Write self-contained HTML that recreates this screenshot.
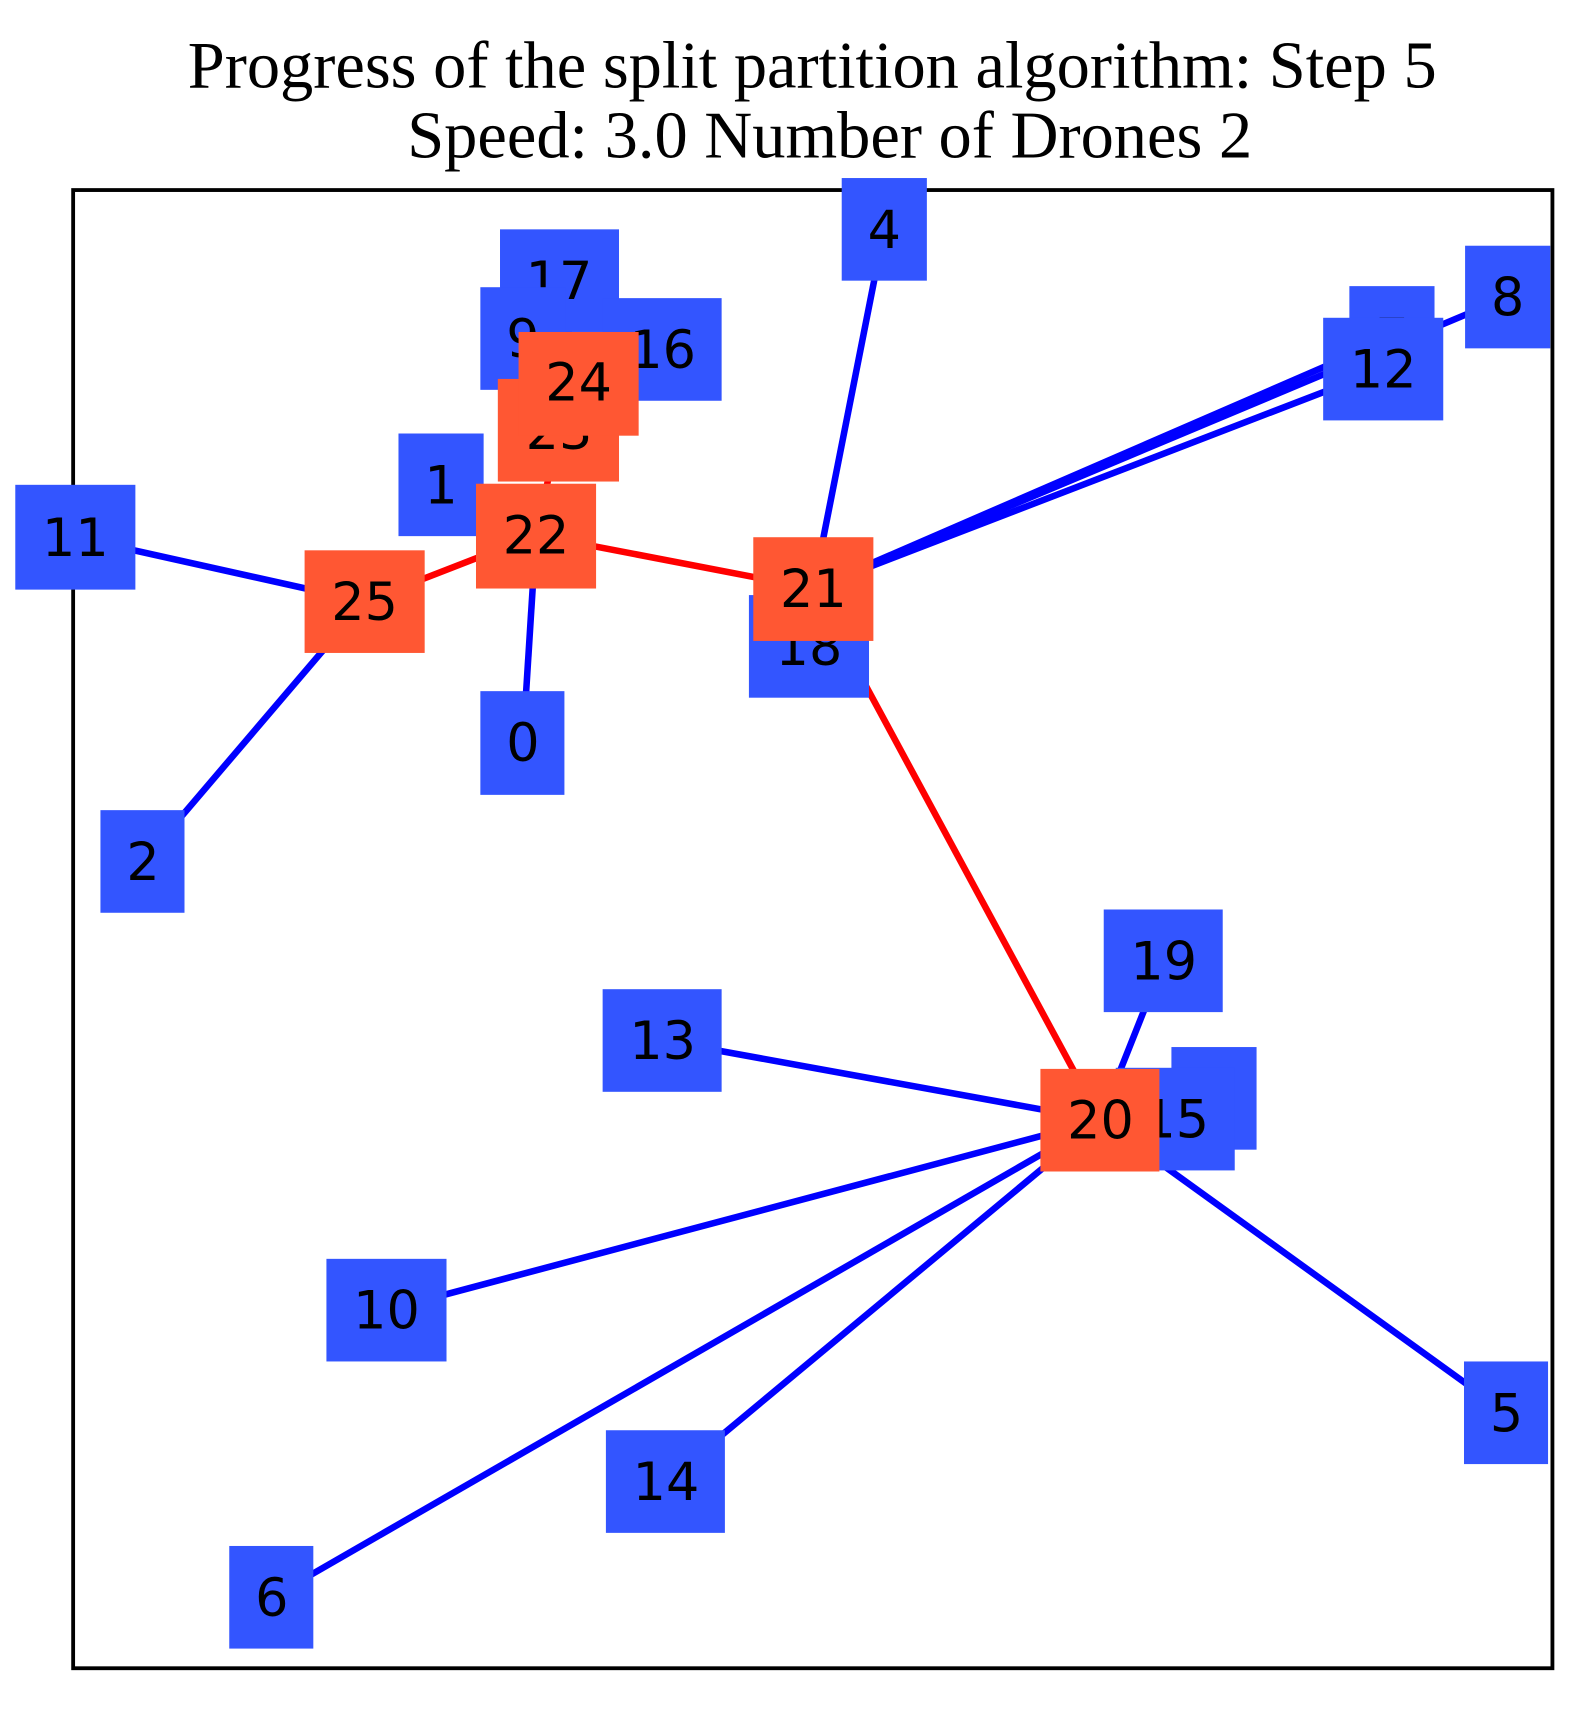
<!DOCTYPE html>
<html><head><meta charset="utf-8"><style>html,body{margin:0;padding:0;background:#fff}svg{display:block}</style></head>
<body>
<svg width="1595" height="1712" viewBox="0 0 1461 1568" xmlns="http://www.w3.org/2000/svg">
<rect x="0" y="0" width="1461" height="1568" fill="#fff"/>
<g font-family="'Liberation Serif', serif" font-size="61" text-anchor="middle" fill="#000">
<text x="744" y="80" textLength="1144" lengthAdjust="spacingAndGlyphs">Progress of the split partition algorithm: Step 5</text>
<text x="760" y="144" textLength="774" lengthAdjust="spacingAndGlyphs">Speed: 3.0 Number of Drones 2</text>
</g>
<rect x="67" y="174" width="1355" height="1354" fill="none" stroke="#000" stroke-width="3.5"/>
<g stroke="#0000ff" stroke-width="6" fill="none">
<line x1="69" y1="492" x2="334" y2="551"/>
<line x1="131" y1="789" x2="334" y2="551"/>
<line x1="479" y1="680" x2="491" y2="490"/>
<line x1="810" y1="210" x2="745" y2="539"/>
<line x1="745" y1="539" x2="1267" y2="338"/>
<line x1="745" y1="539" x2="1275" y2="309"/>
<line x1="745" y1="539" x2="1381" y2="272"/>
<line x1="741" y1="592" x2="745" y2="539"/>
<line x1="607" y1="953" x2="1008" y2="1026"/>
<line x1="354" y1="1200" x2="1008" y2="1026"/>
<line x1="249" y1="1463" x2="1008" y2="1026"/>
<line x1="610" y1="1357" x2="1008" y2="1026"/>
<line x1="1380" y1="1294" x2="1008" y2="1026"/>
<line x1="1066" y1="880" x2="1008" y2="1026"/>
<line x1="512" y1="257" x2="530" y2="351"/>
<line x1="479" y1="310" x2="530" y2="351"/>
<line x1="607" y1="320" x2="530" y2="351"/>
</g>
<g stroke="#ff0000" stroke-width="6" fill="none">
<line x1="334" y1="551" x2="491" y2="490"/>
<line x1="491" y1="490" x2="745" y2="539"/>
<line x1="745" y1="539" x2="1008" y2="1026"/>
<line x1="491" y1="490" x2="512" y2="394"/>
<line x1="512" y1="394" x2="530" y2="351"/>
</g>
<g font-family="'DejaVu Sans', sans-serif" font-size="48" text-anchor="middle" fill="#000">
<rect x="771" y="163" width="78" height="94" fill="#3355ff"/><text x="810" y="227">4</text>
<rect x="458" y="210" width="109" height="94" fill="#3355ff"/><text x="512" y="274">17</text>
<rect x="440" y="263" width="78" height="94" fill="#3355ff"/><text x="479" y="327">9</text>
<rect x="552" y="273" width="109" height="94" fill="#3355ff"/><text x="607" y="337">16</text>
<rect x="456" y="347" width="111" height="94" fill="#ff5733"/><text x="512" y="411">23</text>
<rect x="475" y="304" width="110" height="95" fill="#ff5733"/><text x="530" y="367">24</text>
<rect x="365" y="397" width="78" height="94" fill="#3355ff"/><text x="404" y="461">1</text>
<rect x="436" y="443" width="110" height="96" fill="#ff5733"/><text x="491" y="507">22</text>
<rect x="14" y="444" width="110" height="96" fill="#3355ff"/><text x="69" y="509">11</text>
<rect x="279" y="504" width="110" height="94" fill="#ff5733"/><text x="334" y="568">25</text>
<rect x="686" y="545" width="110" height="94" fill="#3355ff"/><text x="741" y="609">18</text>
<rect x="690" y="492" width="110" height="95" fill="#ff5733"/><text x="745" y="556">21</text>
<rect x="440" y="633" width="77" height="95" fill="#3355ff"/><text x="479" y="697">0</text>
<rect x="92" y="742" width="77" height="94" fill="#3355ff"/><text x="131" y="806">2</text>
<rect x="1236" y="262" width="78" height="94" fill="#3355ff"/><text x="1275" y="326">7</text>
<rect x="1212" y="291" width="110" height="94" fill="#3355ff"/><text x="1267" y="355">12</text>
<rect x="1342" y="225" width="78" height="94" fill="#3355ff"/><text x="1381" y="289">8</text>
<rect x="1011" y="833" width="109" height="94" fill="#3355ff"/><text x="1066" y="897">19</text>
<rect x="552" y="906" width="109" height="94" fill="#3355ff"/><text x="607" y="970">13</text>
<rect x="1073" y="959" width="78" height="94" fill="#3355ff"/><text x="1112" y="1023">3</text>
<rect x="1022" y="978" width="109" height="94" fill="#3355ff"/><text x="1077" y="1042">15</text>
<rect x="953" y="979" width="109" height="94" fill="#ff5733"/><text x="1008" y="1043">20</text>
<rect x="299" y="1153" width="110" height="94" fill="#3355ff"/><text x="354" y="1217">10</text>
<rect x="1341" y="1247" width="77" height="94" fill="#3355ff"/><text x="1380" y="1311">5</text>
<rect x="555" y="1310" width="109" height="94" fill="#3355ff"/><text x="610" y="1374">14</text>
<rect x="210" y="1416" width="77" height="94" fill="#3355ff"/><text x="249" y="1480">6</text>
</g>
</svg>
</body></html>
